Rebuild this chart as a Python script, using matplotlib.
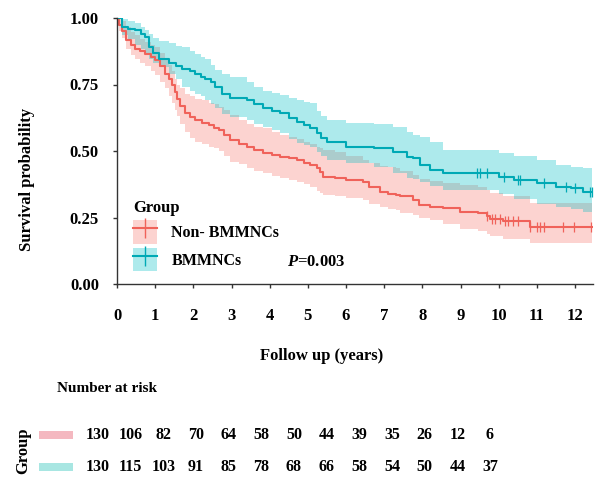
import matplotlib
matplotlib.use("Agg")
import matplotlib.pyplot as plt
from matplotlib.patches import Patch, Rectangle
from matplotlib.lines import Line2D

plt.rcParams['font.family'] = ['Liberation Serif', 'DejaVu Serif']
plt.rcParams['font.weight'] = 'bold'
plt.rcParams['mathtext.fontset'] = 'custom'
plt.rcParams['mathtext.it'] = 'Liberation Serif:italic:bold'
plt.rcParams['mathtext.rm'] = 'Liberation Serif:bold'

# ---------------- data ----------------
groups = ["Non- BMMNCs", "BMMNCs"]

non_time = [0.00, 0.05, 0.12, 0.24, 0.36, 0.48, 0.60, 0.74, 0.88, 1.00, 1.12, 1.27, 1.36, 1.44,
            1.52, 1.57, 1.66, 1.79, 1.92, 2.05, 2.22, 2.40, 2.55, 2.66, 2.80, 2.97, 3.20, 3.40,
            3.60, 3.83, 4.05, 4.27, 4.50, 4.71, 4.90, 5.05, 5.24, 5.32, 5.40, 5.70, 6.00, 6.45,
            6.60, 6.89, 7.10, 7.30, 7.42, 7.75, 7.90, 8.20, 8.55, 8.99, 9.46, 9.68, 9.77, 10.12,
            10.82, 12.45]
non_surv = [1.000, 0.975, 0.950, 0.916, 0.900, 0.885, 0.875, 0.866, 0.852, 0.841, 0.820, 0.791,
            0.770, 0.747, 0.720, 0.697, 0.670, 0.641, 0.628, 0.616, 0.605, 0.597, 0.585, 0.579,
            0.560, 0.541, 0.528, 0.516, 0.505, 0.491, 0.485, 0.479, 0.473, 0.466, 0.455, 0.447,
            0.435, 0.420, 0.404, 0.398, 0.390, 0.385, 0.365, 0.347, 0.340, 0.335, 0.329, 0.316,
            0.297, 0.291, 0.285, 0.272, 0.266, 0.254, 0.244, 0.235, 0.216, 0.216]
non_lo = [1.000, 0.950, 0.925, 0.885, 0.862, 0.845, 0.830, 0.818, 0.800, 0.785, 0.760, 0.735,
          0.705, 0.680, 0.655, 0.630, 0.600, 0.572, 0.550, 0.535, 0.525, 0.515, 0.510, 0.500,
          0.480, 0.460, 0.450, 0.435, 0.425, 0.416, 0.405, 0.398, 0.392, 0.385, 0.375, 0.365,
          0.350, 0.342, 0.335, 0.330, 0.322, 0.316, 0.300, 0.290, 0.283, 0.279, 0.267, 0.258,
          0.250, 0.240, 0.225, 0.207, 0.198, 0.188, 0.180, 0.170, 0.155, 0.155]
non_hi = [1.000, 0.998, 0.990, 0.965, 0.948, 0.935, 0.920, 0.910, 0.900, 0.890, 0.870, 0.847,
          0.825, 0.800, 0.770, 0.750, 0.735, 0.715, 0.705, 0.697, 0.690, 0.682, 0.675, 0.665,
          0.655, 0.635, 0.615, 0.600, 0.592, 0.585, 0.570, 0.560, 0.552, 0.545, 0.535, 0.528,
          0.515, 0.510, 0.504, 0.495, 0.480, 0.466, 0.455, 0.445, 0.440, 0.435, 0.425, 0.410,
          0.395, 0.388, 0.380, 0.372, 0.365, 0.352, 0.342, 0.330, 0.305, 0.305]
non_cens = [9.70, 9.82, 9.90, 10.03, 10.17, 10.25, 10.38, 10.51, 10.82, 11.00, 11.08, 11.19,
            11.69, 11.97, 12.43]

bm_time = [0.00, 0.13, 0.30, 0.48, 0.62, 0.74, 0.83, 0.95, 1.09, 1.35, 1.55, 1.70, 1.90, 2.05,
           2.20, 2.30, 2.45, 2.57, 2.75, 2.97, 3.40, 3.60, 3.83, 4.05, 4.27, 4.50, 4.71, 4.90,
           5.06, 5.24, 5.35, 5.50, 6.00, 6.72, 7.24, 7.59, 7.75, 7.94, 8.20, 8.55, 10.00, 10.40,
           11.00, 11.50, 11.90, 12.20, 12.45]
bm_surv = [1.000, 0.966, 0.960, 0.954, 0.940, 0.928, 0.891, 0.870, 0.847, 0.829, 0.820, 0.810,
           0.800, 0.791, 0.780, 0.772, 0.760, 0.741, 0.716, 0.701, 0.691, 0.675, 0.660, 0.650,
           0.641, 0.625, 0.610, 0.598, 0.585, 0.566, 0.550, 0.535, 0.516, 0.510, 0.497, 0.478,
           0.472, 0.447, 0.429, 0.416, 0.404, 0.391, 0.379, 0.366, 0.360, 0.347, 0.347]
bm_lo = [1.000, 0.935, 0.920, 0.900, 0.885, 0.870, 0.847, 0.830, 0.815, 0.790, 0.772, 0.741,
         0.725, 0.715, 0.705, 0.690, 0.675, 0.660, 0.640, 0.628, 0.615, 0.600, 0.590, 0.578,
         0.566, 0.545, 0.530, 0.522, 0.516, 0.495, 0.480, 0.466, 0.455, 0.440, 0.416, 0.400,
         0.395, 0.385, 0.370, 0.355, 0.340, 0.320, 0.300, 0.290, 0.282, 0.272, 0.272]
bm_hi = [1.000, 0.998, 0.990, 0.980, 0.965, 0.955, 0.941, 0.925, 0.915, 0.905, 0.895, 0.891,
         0.875, 0.865, 0.855, 0.845, 0.825, 0.804, 0.790, 0.778, 0.760, 0.740, 0.725, 0.718,
         0.710, 0.700, 0.690, 0.684, 0.679, 0.650, 0.630, 0.616, 0.605, 0.600, 0.591, 0.572,
         0.560, 0.553, 0.535, 0.504, 0.491, 0.480, 0.466, 0.447, 0.440, 0.435, 0.435]
bm_cens = [9.44, 9.51, 9.70, 10.14, 10.51, 10.57, 11.19, 11.75, 12.01, 12.39, 12.45]

risk_times = [0, 1, 2, 3, 4, 5, 6, 7, 8, 9, 10, 11, 12]
risk_non = [130, 106, 82, 70, 64, 58, 50, 44, 39, 35, 26, 12, 6]
risk_bm = [130, 115, 103, 91, 85, 78, 68, 66, 58, 54, 50, 44, 37]

x_ticks = [0, 1, 2, 3, 4, 5, 6, 7, 8, 9, 10, 11, 12]
y_ticks = [0.00, 0.25, 0.50, 0.75, 1.00]
y_ticklabels = ["0.00", "0.25", "0.50", "0.75", "1.00"]

# ---------------- styles ----------------
line_cols = ['#F0625A', '#00A9B5']
band_cols = ['#F8766D', '#00BFC4']
table_cols = ['#F4B8C0', '#A8E6E2']

W, H = 611, 493
fig = plt.figure(figsize=(W / 100, H / 100), dpi=100)

def fx(px):
    return px / W

def fy(py):
    return 1 - py / H

ax = fig.add_axes([fx(117), fy(284), fx(593) - fx(117), fy(18) - fy(284)])

series = [
    (non_time, non_surv, non_lo, non_hi, non_cens),
    (bm_time, bm_surv, bm_lo, bm_hi, bm_cens),
]
for i, (t, s, lo, hi, cens) in enumerate(series):
    ax.fill_between(t, lo, hi, step='post', color=band_cols[i], alpha=0.32, lw=0)
for i, (t, s, lo, hi, cens) in enumerate(series):
    ax.step(t, s, where='post', color=line_cols[i], lw=1.5)
    cy = []
    for c in cens:
        v = s[0]
        for tt, ss in zip(t, s):
            if tt <= c:
                v = ss
        cy.append(v)
    ax.plot(cens, cy, ls='none', marker='|', ms=7, mew=0.9, color=line_cols[i])

ax.set_xlim(0, 12.47)
ax.set_ylim(0, 1)
ax.set_xticks(x_ticks)
ax.set_xticklabels([str(v) for v in x_ticks])
ax.set_yticks(y_ticks)
ax.set_yticklabels(y_ticklabels)
for sp in ['top', 'right']:
    ax.spines[sp].set_visible(False)
for sp in ['left', 'bottom']:
    ax.spines[sp].set_color('#333333')
    ax.spines[sp].set_linewidth(1.0)
ax.tick_params(axis='x', length=3, width=1, color='#333333', pad=14, labelsize=12)
ax.tick_params(axis='y', length=3, width=1, color='#333333', pad=10, labelsize=12)
for lab in ax.get_xticklabels() + ax.get_yticklabels():
    lab.set_fontweight('bold')

fig.text(fx(27), fy(179), "Survival probability", rotation=90, ha='center', va='center',
         fontsize=12, fontweight='bold')
fig.text(fx(322), fy(356), "Follow up (years)", ha='center', va='center',
         fontsize=12, fontweight='bold')

# legend
handles = []
for i in range(2):
    p = Patch(facecolor=band_cols[i], alpha=0.32, edgecolor='none')
    l = Line2D([], [], color=line_cols[i], lw=1.5, marker='|', ms=15, mew=1.0)
    handles.append((p, l))
leg = ax.legend(handles, groups, loc='upper left', bbox_to_anchor=(fx(133), fy(200)),
                bbox_transform=fig.transFigure, frameon=False, fontsize=11.5,
                title="Group", title_fontproperties={'weight': 'bold', 'size': 12},
                alignment='left', handlelength=1.5, handleheight=1.9,
                handletextpad=0.9, labelspacing=0.25, borderpad=0, borderaxespad=0)

ax.text(4.46, 0.084, "$P$=0.003", ha='left', va='center', fontsize=12, fontweight='bold')

# risk table
fig.text(fx(57), fy(388), "Number at risk", ha='left', va='center', fontsize=11, fontweight='bold')
axr = fig.add_axes([fx(98), fy(480), fx(490) - fx(98), fy(420) - fy(480)])
axr.set_xlim(0, 12)
axr.set_ylim(0, 1)
axr.axis('off')
row_y = [0.75, 0.217]
for i, vals in enumerate([risk_non, risk_bm]):
    for t, n in zip(risk_times, vals):
        axr.text(t, row_y[i], str(n), ha='center', va='center', fontsize=11.5, fontweight='bold')
    axr.add_patch(Rectangle((-1.806, row_y[i] - 0.07), 1.04, 0.14, facecolor=table_cols[i],
                            edgecolor='none', clip_on=False))
fig.text(fx(23), fy(451), "Group", rotation=90, ha='center', va='center', fontsize=12,
         fontweight='bold')

fig.savefig("out.png", dpi=100)
